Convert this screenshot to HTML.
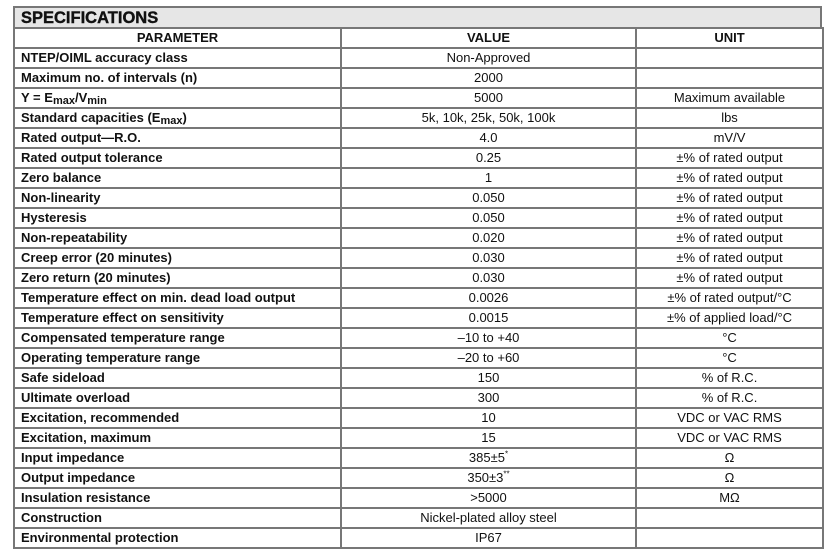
<!DOCTYPE html>
<html><head><meta charset="utf-8"><style>
body{margin:0;width:835px;height:551px;background:#fff;font-family:"Liberation Sans",Arial,sans-serif;color:#111;position:relative;overflow:hidden}
.t{position:absolute;left:13px;top:6px;width:809px;height:21px;background:#e6e6e6;box-sizing:border-box;border:2px solid #777;border-bottom:none;font-weight:900;font-size:16.5px;line-height:20px;padding-left:6px;-webkit-text-stroke:0.4px #111}
.tab{position:absolute;left:13px;top:27px;width:809px;border-collapse:collapse;table-layout:fixed}
.tab td{border:2px solid #777;height:18px;padding:0 0 0 6px;font-size:13px;line-height:16px;white-space:nowrap;overflow:hidden}
.tab td:nth-child(2),.tab td:nth-child(3){text-align:center;font-weight:normal;padding:0}
.tab td:first-child{font-weight:bold}
.tab tr.h td{text-align:center;padding:0}
b{font-weight:bold}
sub{font-size:11px;vertical-align:-2px;line-height:0}
sup{font-size:8px;line-height:0}
</style></head><body>
<div class="t">SPECIFICATIONS</div>
<table class="tab">
<colgroup><col style="width:327px"><col style="width:295px"><col style="width:187px"></colgroup>
<tr class="h"><td><b>PARAMETER</b></td><td><b>VALUE</b></td><td><b>UNIT</b></td></tr>
<tr><td>NTEP/OIML accuracy class</td><td>Non-Approved</td><td></td></tr>
<tr><td>Maximum no. of intervals (n)</td><td>2000</td><td></td></tr>
<tr><td>Y = E<sub>max</sub>/V<sub>min</sub></td><td>5000</td><td>Maximum available</td></tr>
<tr><td>Standard capacities (E<sub>max</sub>)</td><td>5k, 10k, 25k, 50k, 100k</td><td>lbs</td></tr>
<tr><td>Rated output—R.O.</td><td>4.0</td><td>mV/V</td></tr>
<tr><td>Rated output tolerance</td><td>0.25</td><td>±% of rated output</td></tr>
<tr><td>Zero balance</td><td>1</td><td>±% of rated output</td></tr>
<tr><td>Non-linearity</td><td>0.050</td><td>±% of rated output</td></tr>
<tr><td>Hysteresis</td><td>0.050</td><td>±% of rated output</td></tr>
<tr><td>Non-repeatability</td><td>0.020</td><td>±% of rated output</td></tr>
<tr><td>Creep error (20 minutes)</td><td>0.030</td><td>±% of rated output</td></tr>
<tr><td>Zero return (20 minutes)</td><td>0.030</td><td>±% of rated output</td></tr>
<tr><td>Temperature effect on min. dead load output</td><td>0.0026</td><td>±% of rated output/°C</td></tr>
<tr><td>Temperature effect on sensitivity</td><td>0.0015</td><td>±% of applied load/°C</td></tr>
<tr><td>Compensated temperature range</td><td>–10 to +40</td><td>°C</td></tr>
<tr><td>Operating temperature range</td><td>–20 to +60</td><td>°C</td></tr>
<tr><td>Safe sideload</td><td>150</td><td>% of R.C.</td></tr>
<tr><td>Ultimate overload</td><td>300</td><td>% of R.C.</td></tr>
<tr><td>Excitation, recommended</td><td>10</td><td>VDC or VAC RMS</td></tr>
<tr><td>Excitation, maximum</td><td>15</td><td>VDC or VAC RMS</td></tr>
<tr><td>Input impedance</td><td>385±5<sup>*</sup></td><td>Ω</td></tr>
<tr><td>Output impedance</td><td>350±3<sup>**</sup></td><td>Ω</td></tr>
<tr><td>Insulation resistance</td><td>&gt;5000</td><td>MΩ</td></tr>
<tr><td>Construction</td><td>Nickel-plated alloy steel</td><td></td></tr>
<tr><td>Environmental protection</td><td>IP67</td><td></td></tr>
</table>
</body></html>
